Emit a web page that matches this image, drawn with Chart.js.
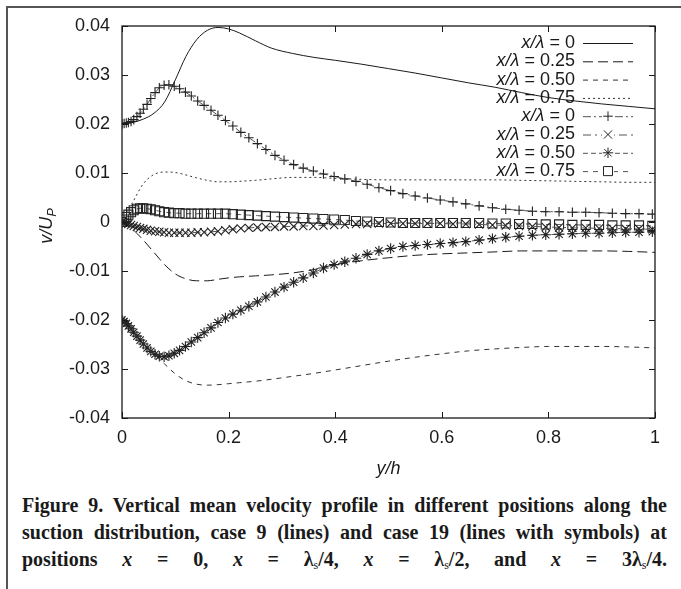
<!DOCTYPE html>
<html>
<head>
<meta charset="utf-8">
<script src="https://cdn.jsdelivr.net/npm/chart.js@4.4.1/dist/chart.umd.min.js"></script>
<style>
  body { margin: 0; width: 681px; height: 589px; overflow: hidden; background: #fff; position: relative; }
  #frame { position: absolute; left: 6px; top: 6px; width: 690px; height: 600px; border-left: 2px solid #555; border-top: 2px solid #555; }
  #c { position: absolute; left: 0; top: 0; }
  #cap { position: absolute; left: 22px; top: 492px; width: 645px; font: bold 20px 'Liberation Serif', 'Times New Roman', serif;
         line-height: 27px; color: #1a1a1a; }
  #cap div { white-space: nowrap; text-align: justify; text-align-last: justify; }
  #cap i { font-style: italic; }
  #cap sub { font-size: 12px; vertical-align: -3px; line-height: 0; font-weight: normal; }
</style>
</head>
<body>
<div id="frame"></div>
<canvas id="c" width="681" height="480"></canvas>
<div id="cap">
  <div>Figure 9. Vertical mean velocity profile in different positions along the</div>
  <div>suction distribution, case 9 (lines) and case 19 (lines with symbols) at</div>
  <div>positions <i>x</i> = 0, <i>x</i> = λ<sub>s</sub>/4, <i>x</i> = λ<sub>s</sub>/2, and <i>x</i> = 3λ<sub>s</sub>/4.</div>
</div>
<script>
// case 9 (lines only)
const yh9 = [0, 0.02, 0.04, 0.06, 0.08, 0.10, 0.12, 0.14, 0.16, 0.18, 0.20, 0.22, 0.25, 0.28, 0.32, 0.36,
  0.40, 0.45, 0.50, 0.55, 0.60, 0.65, 0.70, 0.75, 0.80, 0.85, 0.90, 0.95, 1.0];
const v9_x0 = [0.0200, 0.0203, 0.0210, 0.0222, 0.0245, 0.0290, 0.0338, 0.0372, 0.0391, 0.0397, 0.0394, 0.0386,
  0.0370, 0.0355, 0.0344, 0.0336, 0.0330, 0.0322, 0.0313, 0.0304, 0.0294, 0.0284, 0.0275, 0.0264, 0.0254,
  0.0247, 0.0241, 0.0236, 0.0231];
const v9_x025 = [0.0, -0.0015, -0.0037, -0.0062, -0.0087, -0.0106, -0.0116, -0.0120, -0.0120, -0.0117, -0.0114,
  -0.0112, -0.0110, -0.0108, -0.0104, -0.0097, -0.0087, -0.0079, -0.0073, -0.0068, -0.0065, -0.0063, -0.0061,
  -0.0059, -0.0059, -0.0059, -0.0059, -0.0060, -0.0062];
const v9_x050 = [-0.0200, -0.0222, -0.0249, -0.0270, -0.0290, -0.0310, -0.0324, -0.0331, -0.0333, -0.0332, -0.0330,
  -0.0328, -0.0325, -0.0321, -0.0315, -0.0309, -0.0302, -0.0293, -0.0284, -0.0276, -0.0269, -0.0263, -0.0259,
  -0.0256, -0.0254, -0.0254, -0.0254, -0.0255, -0.0257];
const v9_x075 = [0.0, 0.0040, 0.0078, 0.0097, 0.0102, 0.0101, 0.0096, 0.0090, 0.0085, 0.0082, 0.0082, 0.0083,
  0.0085, 0.0088, 0.0091, 0.0091, 0.0089, 0.0087, 0.0086, 0.0086, 0.0086, 0.0086, 0.0086, 0.0085, 0.0084,
  0.0083, 0.0082, 0.0081, 0.0081];

// case 19 (lines with symbols)
const yh19 = [0, 0.004, 0.008, 0.012, 0.017, 0.022, 0.028, 0.034, 0.040, 0.047, 0.054, 0.062, 0.070, 0.079,
  0.088, 0.098, 0.108, 0.119, 0.130, 0.142, 0.154, 0.167, 0.180, 0.194, 0.208, 0.223, 0.238, 0.254, 0.270,
  0.287, 0.304, 0.322, 0.340, 0.359, 0.378, 0.398, 0.418, 0.439, 0.460, 0.482, 0.504, 0.527, 0.550, 0.573,
  0.597, 0.621, 0.645, 0.670, 0.695, 0.720, 0.745, 0.770, 0.795, 0.820, 0.845, 0.870, 0.895, 0.920, 0.945,
  0.970, 0.995];
const v19_x0 = [0.0200, 0.0201, 0.0202, 0.0203, 0.0205, 0.0209, 0.0215, 0.0222, 0.0230, 0.0240, 0.0252, 0.0264,
  0.0274, 0.0279, 0.0280, 0.0277, 0.0272, 0.0265, 0.0257, 0.0247, 0.0238, 0.0228, 0.0218, 0.0207, 0.0196,
  0.0183, 0.0172, 0.0160, 0.0148, 0.0136, 0.0126, 0.0117, 0.0110, 0.0104, 0.0098, 0.0093, 0.0088, 0.0083,
  0.0077, 0.0070, 0.0064, 0.0058, 0.0053, 0.0049, 0.0045, 0.0041, 0.0037, 0.0033, 0.0029, 0.0026, 0.0024,
  0.0022, 0.0021, 0.0021, 0.0020, 0.0020, 0.0019, 0.0018, 0.0017, 0.0017, 0.0016];
const v19_x025 = [0.0000, -0.0001, -0.0002, -0.0004, -0.0006, -0.0008, -0.0010, -0.0012, -0.0014, -0.0016, -0.0018,
  -0.0019, -0.0020, -0.0021, -0.0022, -0.0022, -0.0022, -0.0022, -0.0022, -0.0021, -0.0021, -0.0020, -0.0019,
  -0.0017, -0.0015, -0.0013, -0.0012, -0.0011, -0.0010, -0.0010, -0.0009, -0.0009, -0.0008, -0.0008, -0.0007,
  -0.0006, -0.0005, -0.0004, -0.0004, -0.0003, -0.0003, -0.0003, -0.0003, -0.0003, -0.0003, -0.0004, -0.0004,
  -0.0005, -0.0006, -0.0007, -0.0008, -0.0009, -0.0010, -0.0011, -0.0012, -0.0012, -0.0013, -0.0013, -0.0014,
  -0.0014, -0.0015];
const v19_x050 = [-0.0200, -0.0203, -0.0207, -0.0212, -0.0218, -0.0225, -0.0233, -0.0241, -0.0249, -0.0257, -0.0264,
  -0.0270, -0.0274, -0.0275, -0.0273, -0.0268, -0.0262, -0.0254, -0.0245, -0.0236, -0.0226, -0.0216, -0.0205,
  -0.0196, -0.0188, -0.0180, -0.0172, -0.0163, -0.0153, -0.0143, -0.0133, -0.0123, -0.0114, -0.0104, -0.0094,
  -0.0087, -0.0081, -0.0074, -0.0066, -0.0059, -0.0054, -0.0050, -0.0048, -0.0046, -0.0044, -0.0042, -0.0040,
  -0.0037, -0.0034, -0.0031, -0.0029, -0.0027, -0.0026, -0.0025, -0.0024, -0.0023, -0.0023, -0.0022, -0.0021,
  -0.0021, -0.0020];
const v19_x075 = [0.0000, 0.0005, 0.0010, 0.0015, 0.0020, 0.0024, 0.0027, 0.0028, 0.0028, 0.0027, 0.0026, 0.0024,
  0.0022, 0.0020, 0.0019, 0.0018, 0.0018, 0.0017, 0.0017, 0.0017, 0.0017, 0.0017, 0.0017, 0.0017, 0.0016,
  0.0015, 0.0014, 0.0013, 0.0012, 0.0011, 0.0010, 0.0009, 0.0008, 0.0007, 0.0006, 0.0005, 0.0004, 0.0002,
  0.0001, 0.0000, -0.0001, -0.0002, -0.0002, -0.0002, -0.0002, -0.0002, -0.0002, -0.0002, -0.0003, -0.0003,
  -0.0004, -0.0004, -0.0005, -0.0005, -0.0006, -0.0006, -0.0006, -0.0007, -0.0007, -0.0007, -0.0008];

const legendValues = ['0', '0.25', '0.50', '0.75', '0', '0.25', '0.50', '0.75'];
const xTickLabels = ['0', '0.2', '0.4', '0.6', '0.8', '1'];
const yTickLabels = ['-0.04', '-0.03', '-0.02', '-0.01', '0', '0.01', '0.02', '0.03', '0.04'];

const sans = "'Liberation Sans', Arial, sans-serif";
const ink = '#1a1a1a';
const gray = '#555';

function pts(xs, ys) { return xs.map((x, i) => ({ x: x, y: ys[i] })); }

function lineSet(ys, dash, color) {
  return { data: pts(yh9, ys), borderColor: color || ink, borderWidth: 1, borderDash: dash, pointRadius: 0,
    cubicInterpolationMode: 'monotone', fill: false };
}
function symSet(ys, dash, style, r) {
  return { data: pts(yh19, ys), borderColor: gray, borderWidth: 1, borderDash: dash, pointStyle: style,
    pointRadius: r, pointBorderColor: '#222', pointBackgroundColor: 'rgba(0,0,0,0)', pointBorderWidth: 1.1,
    tension: 0, fill: false };
}

const datasets = [
  lineSet(v9_x0, []),
  lineSet(v9_x025, [10, 5]),
  lineSet(v9_x050, [5, 5], '#333'),
  lineSet(v9_x075, [2, 3], '#333'),
  symSet(v19_x0, [8, 3, 2, 3], 'cross', 4.8),
  symSet(v19_x025, [8, 4, 2, 4], 'crossRot', 5.8),
  symSet(v19_x050, [5, 3], 'star', 5.2),
  symSet(v19_x075, [5, 5], 'rect', 6.4)
];

function marker(ctx, style, r, x, y) {
  ctx.beginPath();
  const d = r * Math.SQRT1_2;
  if (style === 'cross' || style === 'star') {
    ctx.moveTo(x - r, y); ctx.lineTo(x + r, y); ctx.moveTo(x, y - r); ctx.lineTo(x, y + r);
  }
  if (style === 'crossRot' || style === 'star') {
    ctx.moveTo(x - d, y - d); ctx.lineTo(x + d, y + d); ctx.moveTo(x - d, y + d); ctx.lineTo(x + d, y - d);
  }
  if (style === 'rect') ctx.rect(x - d, y - d, 2 * d, 2 * d);
  ctx.stroke();
}

const decor = {
  id: 'decor',
  afterDraw(chart) {
    const ctx = chart.ctx, a = chart.chartArea;
    const xs = chart.scales.x, ys = chart.scales.y;
    ctx.save();
    ctx.strokeStyle = ink; ctx.lineWidth = 1.3; ctx.setLineDash([]);
    ctx.strokeRect(a.left, a.top, a.right - a.left, a.bottom - a.top);
    ctx.lineWidth = 1;
    const tl = 6;
    ys.ticks.forEach(t => {
      const y = Math.round(ys.getPixelForValue(t.value)) + 0.5;
      ctx.beginPath();
      ctx.moveTo(a.left, y); ctx.lineTo(a.left + tl, y);
      ctx.moveTo(a.right, y); ctx.lineTo(a.right - tl, y);
      ctx.stroke();
    });
    xs.ticks.forEach(t => {
      const x = Math.round(xs.getPixelForValue(t.value)) + 0.5;
      ctx.beginPath();
      ctx.moveTo(x, a.bottom); ctx.lineTo(x, a.bottom - tl);
      ctx.moveTo(x, a.top); ctx.lineTo(x, a.top + tl);
      ctx.stroke();
    });

    // axis titles
    ctx.fillStyle = ink;
    ctx.font = 'italic 18px ' + sans;
    ctx.textAlign = 'center'; ctx.textBaseline = 'middle';
    ctx.fillText('y/h', (a.left + a.right) / 2, 469);

    ctx.save();
    ctx.translate(46, 226);
    ctx.rotate(-Math.PI / 2);
    ctx.font = 'italic 18px ' + sans;
    const w1 = ctx.measureText('v/U').width;
    ctx.font = 'italic 13px ' + sans;
    const w2 = ctx.measureText('P').width;
    const x0 = -(w1 + w2) / 2;
    ctx.textAlign = 'left'; ctx.textBaseline = 'alphabetic';
    ctx.font = 'italic 18px ' + sans;
    ctx.fillText('v/U', x0, 6);
    ctx.font = 'italic 13px ' + sans;
    ctx.fillText('P', x0 + w1, 10);
    ctx.restore();

    // legend
    const textRight = 575, s0 = 583, s1 = 633;
    chart.data.datasets.forEach((ds, i) => {
      const y = a.top + 17 + i * 18.3;
      ctx.textBaseline = 'middle'; ctx.textAlign = 'right';
      ctx.font = '18px ' + sans;
      const rest = ' = ' + legendValues[i];
      const wr = ctx.measureText(rest).width;
      ctx.fillText(rest, textRight, y);
      ctx.font = 'italic 18px ' + sans;
      ctx.fillText('x/λ', textRight - wr, y);
      ctx.strokeStyle = ds.borderColor; ctx.lineWidth = 1;
      ctx.setLineDash(ds.borderDash || []);
      ctx.beginPath(); ctx.moveTo(s0, y + 0.5); ctx.lineTo(s1, y + 0.5); ctx.stroke();
      ctx.setLineDash([]);
      if (ds.pointStyle) {
        ctx.fillStyle = '#fff';
        ctx.fillRect((s0 + s1) / 2 - 6, y - 6, 12, 12);
        ctx.fillStyle = ink;
        ctx.strokeStyle = '#222';
        marker(ctx, ds.pointStyle, ds.pointRadius, (s0 + s1) / 2, y);
      }
    });
    ctx.restore();
  }
};

new Chart(document.getElementById('c'), {
  type: 'line',
  data: { datasets: datasets },
  options: {
    responsive: false,
    animation: false,
    devicePixelRatio: 1,
    layout: { padding: { left: 0, right: 26, top: 26, bottom: 22 } },
    plugins: { legend: { display: false }, tooltip: { enabled: false } },
    scales: {
      x: {
        type: 'linear', min: 0, max: 1,
        grid: { display: false, drawTicks: false }, border: { display: false },
        ticks: { stepSize: 0.2, padding: 9, color: ink, font: { family: sans, size: 18 },
          callback: (v, i) => xTickLabels[i] },
        afterFit: s => { s.height = 40; }
      },
      y: {
        type: 'linear', min: -0.04, max: 0.04,
        grid: { display: false, drawTicks: false }, border: { display: false },
        ticks: { stepSize: 0.01, padding: 12, color: ink, font: { family: sans, size: 18 },
          callback: (v, i) => yTickLabels[i] },
        afterFit: s => { s.width = 122; }
      }
    }
  },
  plugins: [decor]
});
</script>
</body>
</html>
